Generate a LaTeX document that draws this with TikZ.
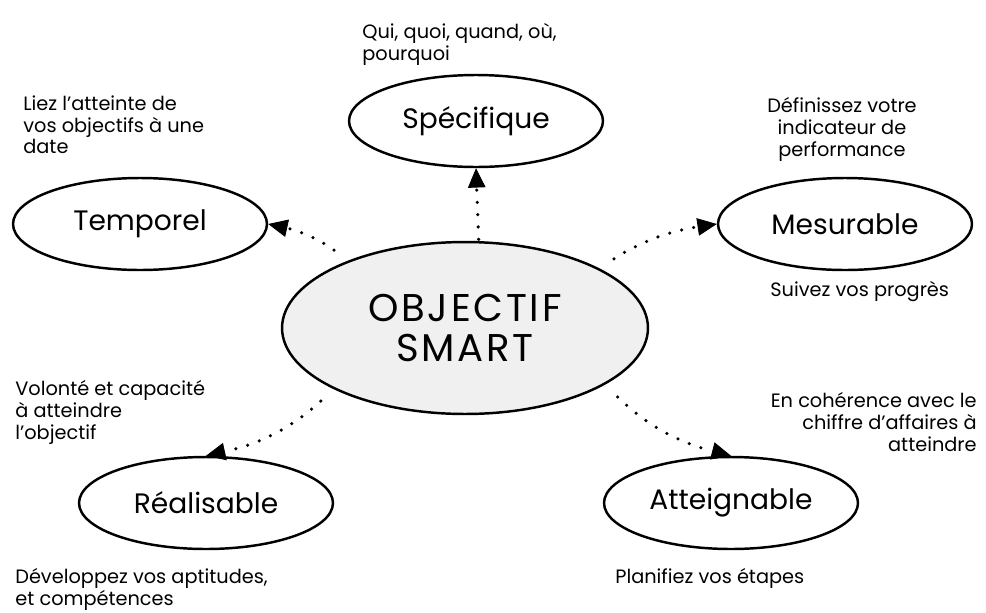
\documentclass[tikz,border=0pt]{standalone}
\usepackage{fontspec}
\setmainfont{Poppins}
\usetikzlibrary{arrows.meta, shapes.geometric}

\begin{document}
\begin{tikzpicture}[x=0.02cm, y=-0.02cm,
    goal/.style={ellipse, draw, line width=1.4pt, fill=black!6,
        minimum width=7.32cm, minimum height=3.44cm, align=center,
        font=\fontsize{22}{23}\selectfont\addfontfeature{LetterSpace=7}},
    crit/.style={ellipse, draw, line width=1.4pt,
        minimum width=5.08cm, minimum height=1.84cm,
        font=\fontsize{16}{18}\selectfont},
    note/.style={inner sep=0pt, font=\fontsize{11}{12.5}\selectfont},
    link/.style={line width=2pt, line cap=round, dash pattern=on 0pt off 7pt,
        shorten <=10pt, -{Triangle[length=11pt, width=10pt, line width=0.5pt]}}]
    \useasboundingbox (0,0) rectangle (986,612);

    % centre
    \node[goal] (obj) at (465,328) {OBJECTIF\\SMART};

    % criteres
    \node[crit] (spec) at (476,121) {Spécifique};
    \node[crit] (temp) at (140,224) {Temporel};
    \node[crit] (mes)  at (845,224) {Mesurable};
    \node[crit] (real) at (206,503) {Réalisable};
    \node[crit] (att)  at (731,503) {Atteignable};

    % notes
    \node[note, anchor=north west, align=left] (specnote) at (362,23) {Qui, quoi, quand, où,\\pourquoi};
    \node[note, anchor=north west, align=left] (tempnote) at (23,95) {Liez l'atteinte de\\vos objectifs à une\\date};
    \node[note, anchor=north, align=center] (mesnote) at (842,97) {Définissez votre\\indicateur de\\performance};
    \node[note, anchor=west] (mesnote2) at (770,292) {Suivez vos progrès};
    \node[note, anchor=north west, align=left] (realnote) at (15,380) {Volonté et capacité\\à atteindre\\l'objectif};
    \node[note, anchor=north west, align=left] (realnote2) at (15,568) {Développez vos aptitudes,\\et compétences};
    \node[note, anchor=north east, align=right] (attnote) at (977,392) {En cohérence avec le\\chiffre d'affaires à\\atteindre};
    \node[note, anchor=west] (attnote2) at (615,578) {Planifiez vos étapes};

    % liens
    \draw[link, shorten <=1pt] (obj.81) -- (spec.south);
    \draw[link] (obj.150) to[bend right=12] (temp.east);
    \draw[link] (obj.24) to[bend left=12] (mes.west);
    \draw[link] (obj.205) to[bend left=15] (real.north);
    \draw[link] (obj.338) to[bend right=15] (att.north);
\end{tikzpicture}
\end{document}
